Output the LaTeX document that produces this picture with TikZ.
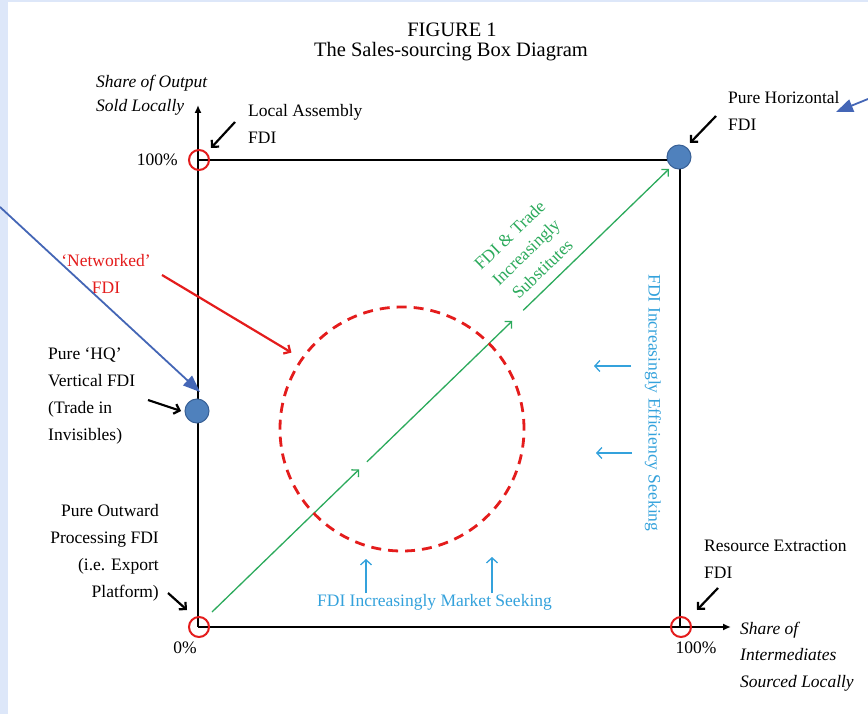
\documentclass[tikz,border=0pt]{standalone}
\usepackage{fontspec}
\setmainfont{Liberation Serif}
\usetikzlibrary{arrows.meta,calc}

\definecolor{fdired}{RGB}{228,28,28}
\definecolor{fdigreen}{RGB}{44,170,92}
\definecolor{fdicyan}{RGB}{52,162,220}
\definecolor{dotblue}{RGB}{79,129,189}
\definecolor{dotedge}{RGB}{56,96,150}
\definecolor{callblue}{RGB}{68,102,182}
\definecolor{slidebg}{RGB}{221,231,249}

\tikzset{
  lbl/.style={inner sep=0pt, font=\fontsize{17.5}{27}\selectfont},
  axlbl/.style={lbl, font=\fontsize{17.5}{26.5}\selectfont\itshape},
  titletext/.style={inner sep=0pt, font=\fontsize{20.5}{24}\selectfont},
  axisline/.style={line width=2.4pt, -{Latex[length=8pt,width=7pt]}},
  boxline/.style={line width=2.4pt, line join=miter},
  opendot/.style={circle, draw=fdired, line width=2pt, minimum size=20pt, inner sep=0pt},
  bluedot/.style={circle, draw=dotedge, fill=dotblue, line width=1pt, minimum size=24pt, inner sep=0pt},
  pointer/.style={line width=2.2pt, -{Straight Barb[length=5pt,width=10pt]}},
  redpointer/.style={draw=fdired, line width=2.2pt, -{Straight Barb[length=5pt,width=10pt]}},
  greenarrow/.style={draw=fdigreen, line width=1.3pt, -{Straight Barb[length=5pt,width=10pt]}},
  cyanarrow/.style={draw=fdicyan, line width=1.3pt, -{Straight Barb[length=5pt,width=11pt]}},
  callout/.style={draw=callblue, line width=1.8pt, -{Triangle[length=17pt,width=13pt]}, callblue},
}

\begin{document}
\begin{tikzpicture}[x=1pt,y=-1pt]
% page: slide background with a white figure sheet
\fill[slidebg] (0,0) rectangle (868,714);
\fill[white] (8,2) rectangle (868,714);
\useasboundingbox (0,0) rectangle (868,714);

% title
\node[titletext, anchor=base] (fig) at (452,37) {FIGURE 1};
\node[titletext, anchor=base] (figname) at (451,57) {The Sales-sourcing Box Diagram};

% box corners and axis tips
\coordinate (c00) at (198,627);
\coordinate (c01) at (198,160);
\coordinate (c11) at (680,160);
\coordinate (c10) at (680,627);
\coordinate (ytip) at (198,105);
\coordinate (xtip) at (731,627);

\draw[axisline] (c00) -- (ytip);
\draw[axisline] (c00) -- (xtip);
\draw[boxline] (c01) -- (c11) -- (c10);

% diagonal: FDI and trade increasingly substitutes
\coordinate (g0) at (212,612);
\coordinate (g3) at (669,169);
\draw[greenarrow] (g0) -- ($(g0)!0.322!(g3)$);
\draw[greenarrow] ($(g0)!0.339!(g3)$) -- ($(g0)!0.657!(g3)$);
\draw[greenarrow] ($(g0)!0.681!(g3)$) -- (g3);
\node[inner sep=0pt, text=fdigreen, rotate=44, align=center,
      font=\fontsize{17.5}{23.5}\selectfont] (subst) at (526,252)
  {FDI \& Trade\\Increasingly\\Substitutes};

% networked FDI region
\node[circle, draw=fdired, line width=2.8pt, dash pattern=on 10pt off 7pt,
      minimum size=244pt, inner sep=0pt] (net) at (402,429) {};

% corner markers
\node[opendot] (o) at (199,627) {};
\node[opendot] (ytop) at (199,160) {};
\node[opendot] (xend) at (681,627) {};
\node[bluedot] (hor) at (679,157) {};
\node[bluedot] (hq) at (197,411) {};

% axis labels (anchored at the baseline of their last line)
\node[axlbl, align=left, anchor=base west, font=\fontsize{17.5}{24}\selectfont\itshape] (ylab) at (96,112)
  {Share of Output\\Sold Locally};
\node[axlbl, align=left, anchor=base west] (xlab) at (740,687)
  {Share of\\Intermediates\\Sourced Locally};
\node[lbl, anchor=base east] (y100) at (178,166) {100\%};
\node[lbl, anchor=base] (zero) at (185,653) {0\%};
\node[lbl, anchor=base] (x100) at (696,653) {100\%};

% FDI type labels
\node[lbl, align=left, anchor=base west] (la) at (248,144) {Local Assembly\\FDI};
\node[lbl, align=left, anchor=base west] (ph) at (728,131) {Pure Horizontal\\FDI};
\node[lbl, align=center, anchor=base, text=fdired] (nw) at (106,294) {‘Networked’\\FDI};
\node[lbl, align=left, anchor=base west] (hql) at (48,440)
  {Pure ‘HQ’\\Vertical FDI\\(Trade in\\Invisibles)};
\node[lbl, align=right, anchor=base east] (po) at (159,597)
  {Pure Outward\\Processing FDI\\(i.e. Export\\Platform)};
\node[lbl, align=left, anchor=base west] (re) at (704,578) {Resource Extraction\\FDI};

% pointers to the corners
\coordinate (la-t) at (235,122);   \coordinate (la-h) at (211,148);
\coordinate (ph-t) at (716,116);   \coordinate (ph-h) at (690,143);
\coordinate (hq-t) at (148,400);   \coordinate (hq-h) at (181,411);
\coordinate (po-t) at (168,593);   \coordinate (po-h) at (187,610);
\coordinate (re-t) at (718,588);   \coordinate (re-h) at (697,610);
\draw[pointer] (la-t) -- (la-h);
\draw[pointer] (ph-t) -- (ph-h);
\draw[pointer] (hq-t) -- (hq-h);
\draw[pointer] (po-t) -- (po-h);
\draw[pointer] (re-t) -- (re-h);

\coordinate (nw-t) at (162,275);
\draw[redpointer, shorten >=11pt] (nw-t) -- (net.145);

% market seeking / efficiency seeking
\node[lbl, anchor=base, text=fdicyan] (ms) at (434.5,606) {FDI Increasingly Market Seeking};
\node[lbl, rotate=-90, text=fdicyan] (es) at (653,403) {FDI Increasingly Efficiency Seeking};
\coordinate (ms1-t) at (366,593);  \coordinate (ms1-h) at (366,559);
\coordinate (ms2-t) at (492,593);  \coordinate (ms2-h) at (492,557);
\coordinate (es1-t) at (631,366);  \coordinate (es1-h) at (594,366);
\coordinate (es2-t) at (632,453);  \coordinate (es2-h) at (596,453);
\draw[cyanarrow] (ms1-t) -- (ms1-h);
\draw[cyanarrow] (ms2-t) -- (ms2-h);
\draw[cyanarrow] (es1-t) -- (es1-h);
\draw[cyanarrow] (es2-t) -- (es2-h);

% slide callouts
\coordinate (cl-t) at (0,207);   \coordinate (cl-h) at (200,392);
\coordinate (cr-t) at (868,99);  \coordinate (cr-h) at (836,112);
\draw[callout] (cl-t) -- (cl-h);
\draw[callout] (cr-t) -- (cr-h);
\end{tikzpicture}
\end{document}
